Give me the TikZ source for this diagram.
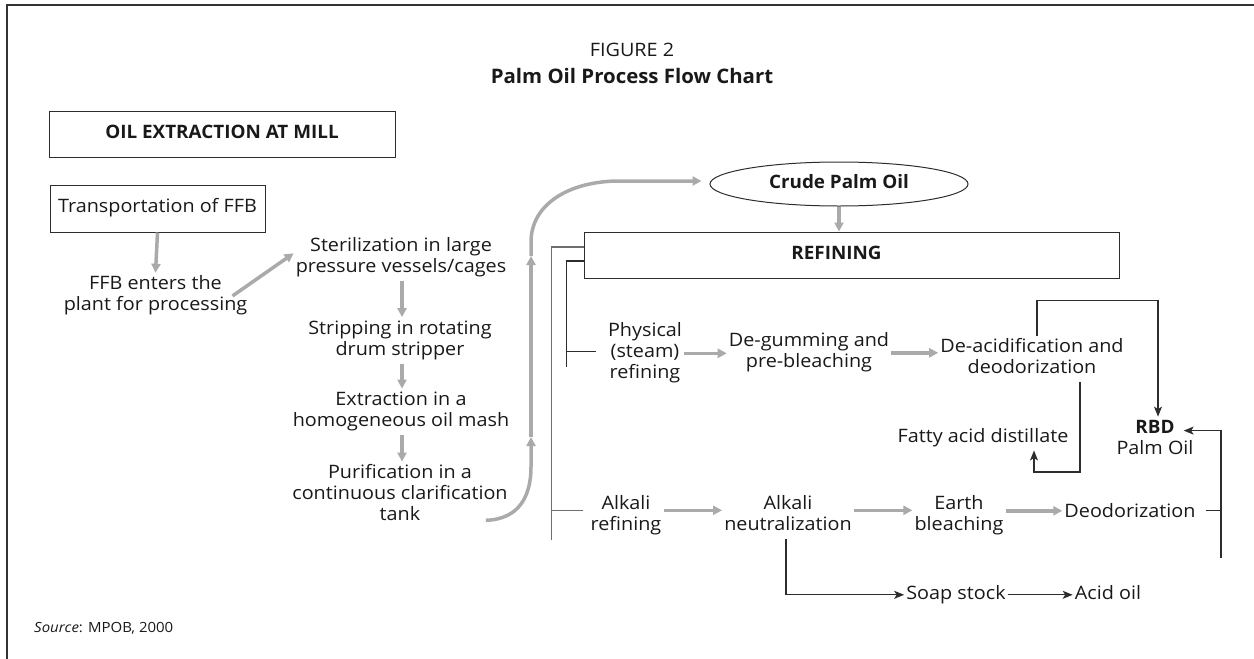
\documentclass[tikz,border=0pt]{standalone}
\usepackage{fontspec}
\setmainfont{Open Sans}[FakeStretch=1.07, BoldFeatures={FakeStretch=1.02}]
\usetikzlibrary{arrows.meta,shapes.geometric,calc}
\definecolor{garrow}{RGB}{170,170,170}
\definecolor{lin}{RGB}{45,45,45}
\definecolor{bracket}{RGB}{110,110,110}
\begin{document}
\begin{tikzpicture}[x=1pt,y=-1pt,
  every node/.style={font=\fontsize{18.5}{21}\selectfont, inner sep=2pt, align=center, text=black!90},
  box/.style={draw=lin, line width=1pt, inner sep=0pt},
  garr/.style={draw=garrow, line width=3.5pt, -{Triangle[width=9pt,length=9pt]}},
  bline/.style={draw=lin, line width=1.2pt},
  barr/.style={bline, -{Stealth[width=8pt,length=10pt,inset=2.5pt]}},
  brk/.style={draw=bracket, line width=1.3pt},
  brk2/.style={draw=lin, line width=1.1pt}
]
\useasboundingbox (0,0) rectangle (1254,659);
% frame
\draw[draw=black!80, line width=2pt] (7,659) -- (7,5) -- (1254,5);

% titles
\node[anchor=base] (fig) at (632,56) {FIGURE 2};
\node[anchor=base, font=\fontsize{20}{22}\selectfont] (title) at (632,83) {\textbf{Palm Oil Process Flow Chart}};

% left column
\node[box, minimum width=346, minimum height=46] (oilx) at (222,134) {\strut\textbf{OIL EXTRACTION AT MILL}};
\node[box, minimum width=215, minimum height=47] (trans) at (157.5,208.5) {\strut Transportation of FFB};
\node (ffb) at (155.5,296) {\strut FFB enters the\\plant for processing\strut};
\node (ster) at (401,257.3) {\strut Sterilization in large\\pressure vessels/cages\strut};
\node (strip) at (400,340.3) {\strut Stripping in rotating\\drum stripper\strut};
\node (extr) at (401,411.8) {\strut Extraction in a\\homogeneous oil mash\strut};
\node (pur) at (400,495.3) {\strut Purification in a\\continuous clarification\\tank\strut};

\draw[garr] (trans.south) -- (ffb.north);
\draw[garr] ([xshift=-17pt]ffb.east) -- ([yshift=4pt]ster.west);
\draw[garr] ([xshift=1pt]ster.south) -- ([xshift=2pt]strip.north);
\draw[garr] ([xshift=2pt]strip.south) -- ([xshift=1pt]extr.north);
\draw[garr] ([xshift=1pt]extr.south) -- ([xshift=2pt]pur.north);

% crude palm oil and refining
\node[draw=lin, line width=1pt, ellipse, minimum width=258, minimum height=44, inner sep=0pt] (cpo) at (839,184) {\strut\textbf{Crude Palm Oil}};
\node[box, minimum width=535, minimum height=46] (refbox) at (851.5,255) {\strut\textbf{REFINING}\hspace*{30pt}};

\coordinate (g1) at (531,437);
\coordinate (g2) at (531,256);
\draw[garr] ([xshift=-24pt,yshift=-25pt]pur.east) .. controls +(34,-1) and +(0,28) .. ($(g1)+(0,30)$) -- (g1);
\draw[garr] (g1) -- (g2);
\draw[garr] (g2) -- ++(0,-14) .. controls +(0,-38) and +(-50,0) .. ($(cpo.west)+(-90,-3)$) -- ($(cpo.west)+(-8,-3)$);
\draw[garr] (cpo.south) -- (cpo.south |- refbox.north);

% refining brackets
\draw[brk] ([yshift=8pt]refbox.west) -- ++(-32,0) -- ++(0,293);
\draw[brk2] ([yshift=-6pt]refbox.west) -- ++(-17,0) -- ++(0,106);

% physical refining row
\node (phys) at (645,353.3) {\strut Physical\\(steam)\\refining\strut};
\node (degum) at (809,352.8) {\strut De-gumming and\\pre-bleaching\strut};
\node (deacid) at (1032,358.8) {\strut De-acidification and\\deodorization\strut};
\node (fatty) at (983,437.8) {\strut Fatty acid distillate};
\node (rbd) at (1155,439.8) {\strut\textbf{RBD}\\Palm Oil\strut};

\draw[brk2] ([xshift=-10pt,yshift=2pt]phys.west) -- ++(-30,0);
\draw[garr] (phys.east) -- (phys.east -| degum.west);
\draw[garr] (degum.east) -- (degum.east -| deacid.west);
\draw[barr] ([xshift=5pt]deacid.north) -- ++(0,-35) -| ([xshift=3pt]rbd.north);
\draw[barr] ([xshift=48pt]deacid.south) -- ++(0,90) -| ([xshift=51pt]fatty.south);

% alkali refining row
\node (alkref) at (626,515.3) {\strut Alkali\\refining\strut};
\node (alkneu) at (788,515.3) {\strut Alkali\\neutralization\strut};
\node (earth) at (959,515.8) {\strut Earth\\bleaching\strut};
\node (deod) at (1130,512.8) {\strut Deodorization};
\node (soap) at (956,594.8) {\strut Soap stock};
\node (acid) at (1108,594.8) {\strut Acid oil};

\coordinate (vbot) at (1221,558);
\draw[brk] ([xshift=-5pt,yshift=5pt]alkref.west) -- ++(-31,0);
\draw[garr] ([yshift=5pt]alkref.east) -- ([yshift=5pt]alkref.east -| alkneu.west);
\draw[garr] ([yshift=5pt]alkneu.east) -- ([yshift=5pt]alkneu.east -| earth.west);
\draw[garr] ([yshift=5pt]earth.east) -- ([yshift=5pt]earth.east -| deod.west);
\draw[bline] ([xshift=8pt,yshift=2pt]deod.east) -- ([yshift=2pt]deod.east -| vbot);
\draw[barr] (vbot) |- ($(rbd.north east)+(-12,14)$);
\draw[barr] ([xshift=-2pt]alkneu.south) |- (soap.west);
\draw[barr] (soap.east) -- (acid.west);

% source
\node[anchor=base west, font=\fontsize{14}{16}\selectfont] (src) at (32,632) {\textit{Source}: MPOB, 2000};
\end{tikzpicture}
\end{document}
